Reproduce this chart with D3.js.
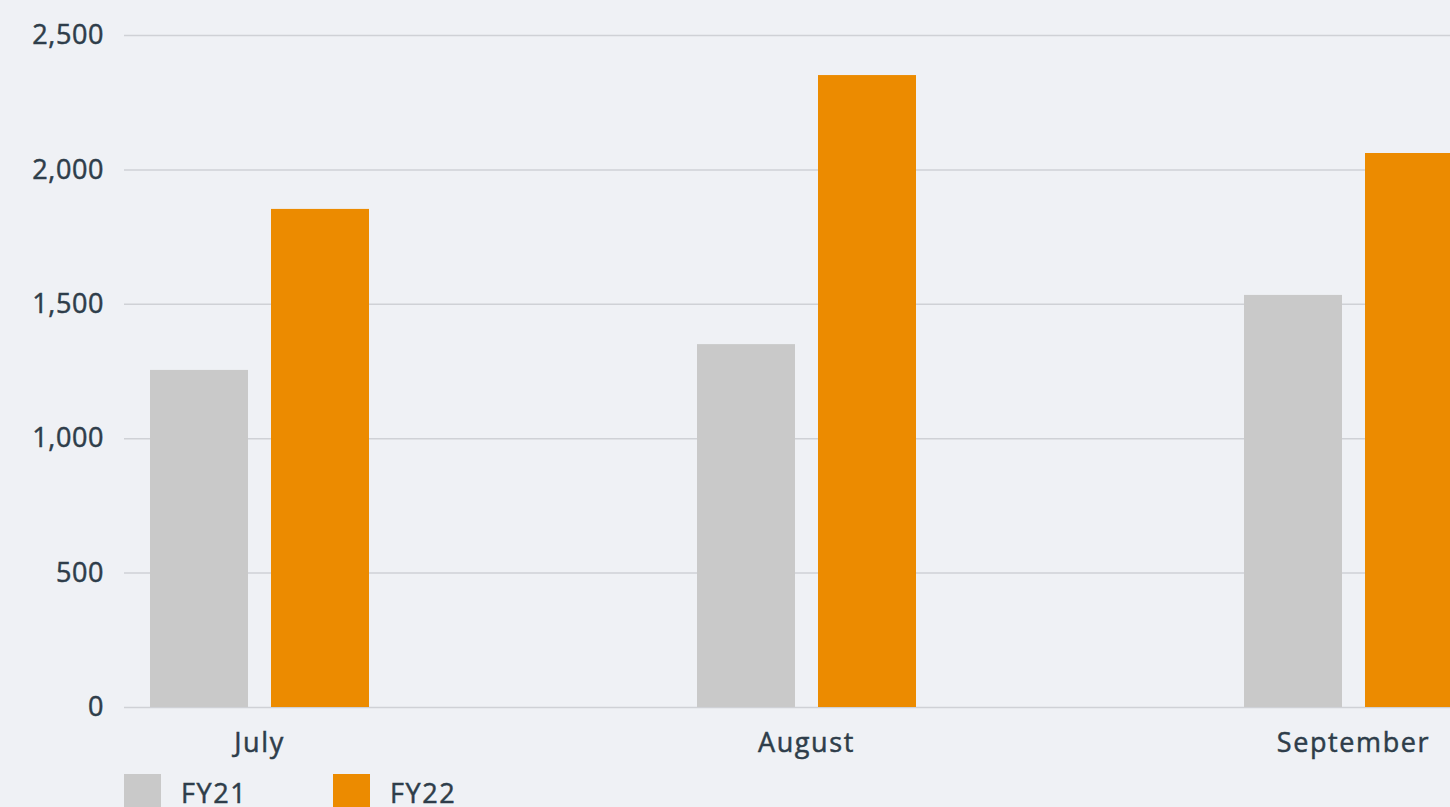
<!DOCTYPE html>
<html lang="en">
<head>
    <meta charset="UTF-8">
    <title>FY21 vs FY22 by month</title>
    <script src="https://cdn.jsdelivr.net/npm/d3@7/dist/d3.min.js"></script>
    <style>
        html, body { margin: 0; padding: 0; background: #eff1f5; overflow: hidden; }
        svg { display: block; }
        /* regular weight + thin stroke: the installed Open Sans has no medium */
        .chart text { font-family: "Open Sans", "Noto Sans", sans-serif; fill: #2e3d4a; font-size: 27px;
                      stroke: #2e3d4a; stroke-width: 0.5px; }
        .chart .mlabel, .chart .leg text { letter-spacing: 1.6px; }
        .chart .tick text { letter-spacing: 0.6px; }
    </style>
</head>
<body>
    <div id="chart" class="chart"></div>

    <script>
        // data
        var months = ["July", "August", "September"];
        var series = ["FY21", "FY22"];
        var fy21 = [1254, 1350, 1533];
        var fy22 = [1853, 2351, 2061];
        var yTicks = [0, 500, 1000, 1500, 2000, 2500];
        var colors = ["#c9c9c9", "#ec8b00"];

        var width = 1450, height = 807;

        var svg = d3.select("#chart").append("svg")
            .attr("width", width)
            .attr("height", height);

        var y = d3.scaleLinear().domain([0, 2500]).range([707, 35]);
        var x = d3.scalePoint().domain(months).range([259.5, 1353.5]);
        var xs = d3.scaleBand().domain(series).range([-109.5, 109.5])
            .paddingInner(0.19).paddingOuter(0);

        // gridlines + y labels
        var yAxis = d3.axisLeft(y).tickValues(yTicks)
            .tickSize(-(width - 124))
            .tickPadding(20)
            .tickFormat(d3.format(","));

        var gy = svg.append("g").attr("transform", "translate(124,0)").call(yAxis);
        gy.select(".domain").remove();
        gy.selectAll(".tick line").attr("stroke", "#cfd1d6").attr("stroke-width", 1.5);
        gy.selectAll(".tick text").attr("fill", null).attr("font-size", null).attr("font-family", null);

        // bars
        var rows = months.map(function(m, i) {
            return { month: m, values: [fy21[i], fy22[i]] };
        });

        var groups = svg.selectAll(".grp").data(rows).enter().append("g")
            .attr("class", "grp")
            .attr("transform", function(d) { return "translate(" + x(d.month) + ",0)"; });

        groups.selectAll("rect")
            .data(function(d) { return d.values.map(function(v, j) { return { key: series[j], value: v }; }); })
            .enter().append("rect")
            .attr("x", function(d) { return xs(d.key); })
            .attr("y", function(d) { return y(d.value); })
            .attr("width", xs.bandwidth())
            .attr("height", function(d) { return y(0) - y(d.value); })
            .attr("fill", function(d, j) { return colors[j]; });

        // month labels
        svg.selectAll(".mlabel").data(months).enter().append("text")
            .attr("class", "mlabel")
            .attr("x", function(d) { return x(d); })
            .attr("y", 752)
            .attr("text-anchor", "middle")
            .text(function(d) { return d; });

        // legend
        var legend = svg.selectAll(".leg").data(series).enter().append("g")
            .attr("class", "leg")
            .attr("transform", function(d, i) { return "translate(" + (124 + i * 209) + ",774)"; });
        legend.append("rect").attr("width", 37).attr("height", 37)
            .attr("fill", function(d, i) { return colors[i]; });
        legend.append("text").attr("x", 57).attr("y", 29).text(function(d) { return d; });
    </script>
</body>
</html>
